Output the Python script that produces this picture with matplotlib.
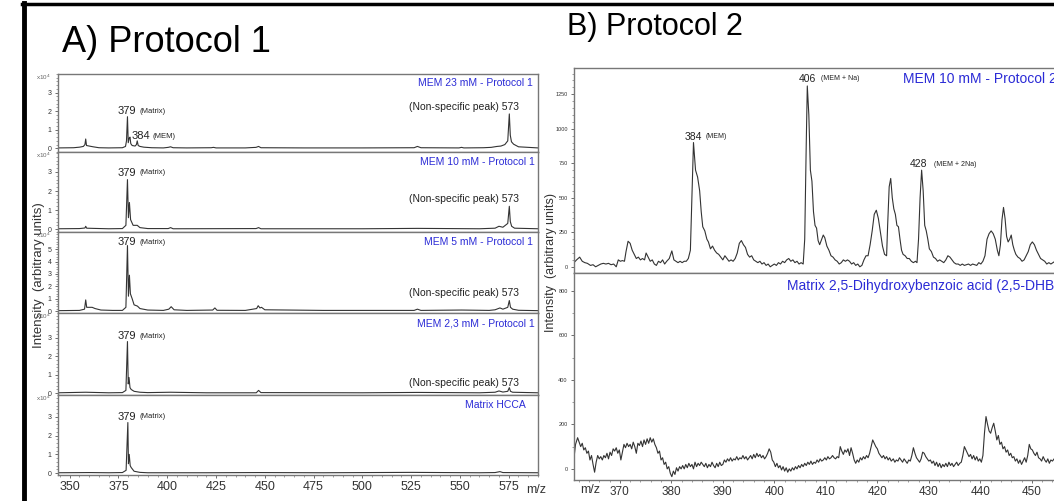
import numpy as np
import matplotlib
matplotlib.use("Agg")
import matplotlib.pyplot as plt
from matplotlib.lines import Line2D
from matplotlib.ticker import MultipleLocator

plt.rcParams['font.family'] = ['Liberation Sans', 'DejaVu Sans']

W, H = 1054, 501
BLUE = '#2b2bd6'
GRAY = '#777777'
LINE = '#333333'

# ---- Protocol 1 spectra (m/z, intensity x10^4) ----
mem23_mz = [344, 352, 355, 357, 357.8, 358.2, 358.6, 360, 362, 365, 370, 377, 378.6, 379.1, 379.6, 380.0,
            380.5, 380.9, 381.3, 382, 383.5, 384.2, 384.6, 385.1, 386, 388, 392, 398, 400.5, 401.7, 403,
            410, 422.5, 423.7, 425, 440, 445.5, 446.8, 448, 470, 500, 526.5, 528.2, 530, 549.5, 550.8, 552,
            562, 566, 569, 571, 573, 574.5, 575.3, 575.8, 576.4, 577.5, 580, 590]
mem23_i = [0.02, 0.03, 0.06, 0.1, 0.2, 0.5, 0.15, 0.12, 0.08, 0.03, 0.02, 0.03, 0.1, 0.4, 1.7, 0.3,
           0.55, 0.6, 0.25, 0.15, 0.12, 0.2, 0.4, 0.15, 0.1, 0.06, 0.03, 0.02, 0.05, 0.08, 0.03,
           0.02, 0.03, 0.05, 0.02, 0.02, 0.05, 0.1, 0.03, 0.02, 0.02, 0.03, 0.1, 0.03, 0.02, 0.05, 0.02,
           0.03, 0.05, 0.1, 0.12, 0.2, 0.4, 1.85, 0.7, 0.35, 0.22, 0.08, 0.02]

mem10_mz = [344, 355, 357.8, 358.2, 358.7, 362, 370, 377, 378.8, 379.6, 380.1, 380.6, 381.2, 382.5, 384.6,
            386, 390, 400.5, 401.7, 403, 445.5, 446.8, 448, 500, 528.2, 560, 568, 570, 572, 574.5, 575.3,
            575.8, 576.5, 578, 590]
mem10_i = [0.02, 0.03, 0.06, 0.15, 0.05, 0.04, 0.02, 0.03, 0.2, 2.6, 0.6, 1.4, 0.5, 0.2, 0.2,
           0.08, 0.03, 0.03, 0.08, 0.02, 0.03, 0.08, 0.02, 0.02, 0.04, 0.02, 0.05, 0.15, 0.1, 0.3, 1.2,
           0.4, 0.15, 0.05, 0.02]

mem5_mz = [344, 355, 357.6, 358.2, 358.7, 360, 361.5, 363, 366, 372, 377, 378.8, 379.6, 380.1, 380.6, 381.1,
           382, 383, 384.7, 386, 390, 398, 400.8, 402, 403.5, 410, 423.3, 424.4, 425.5, 440, 445.8, 446.6,
           447.5, 448.3, 450, 480, 500, 526.5, 528.2, 530, 550.8, 565, 568, 570.5, 572, 574.5, 575.3, 575.9,
           577, 580, 590]
mem5_i = [0.03, 0.05, 0.15, 0.9, 0.3, 0.3, 0.3, 0.2, 0.08, 0.05, 0.05, 0.3, 5.3, 1.2, 2.9, 1.4,
          1.0, 0.5, 0.4, 0.2, 0.08, 0.05, 0.15, 0.35, 0.1, 0.05, 0.08, 0.25, 0.06, 0.05, 0.2, 0.43,
          0.25, 0.3, 0.1, 0.05, 0.05, 0.05, 0.15, 0.05, 0.08, 0.05, 0.1, 0.25, 0.15, 0.3, 0.85,
          0.3, 0.15, 0.06, 0.03]

mem23b_mz = [344, 358.2, 370, 377, 378.8, 379.6, 380.0, 380.4, 380.9, 381.5, 383, 386, 390, 401.7, 420,
             445.6, 446.8, 448, 500, 528.2, 560, 568, 570, 572, 574.5, 575.3, 575.9, 577, 590]
mem23b_i = [0.02, 0.05, 0.02, 0.03, 0.15, 2.8, 0.5, 0.85, 0.3, 0.2, 0.1, 0.05, 0.03, 0.05, 0.02,
            0.02, 0.15, 0.03, 0.02, 0.04, 0.02, 0.05, 0.12, 0.06, 0.1, 0.3, 0.1, 0.05, 0.02]

hcca_mz = [344, 360, 370, 377, 378.9, 379.8, 380.1, 380.5, 381.0, 381.5, 383, 386, 390, 420, 446.8, 480,
           525, 560, 568, 570.5, 572, 590]
hcca_i = [0.02, 0.03, 0.02, 0.03, 0.15, 2.7, 0.5, 1.0, 0.4, 0.3, 0.1, 0.04, 0.02, 0.02, 0.03, 0.02,
          0.04, 0.02, 0.03, 0.08, 0.03, 0.02]

# ---- Protocol 2 spectra (m/z, intensity) ----
p2_mz = [361.1, 361.6, 362.2, 362.7, 363.2, 363.7, 364.3, 364.8, 365.3, 365.8, 366.3, 366.8, 367.3, 367.8,
         368.3, 368.8, 369.3, 369.7, 370.1, 370.5, 370.9, 371.2, 371.6, 372.0, 372.4, 372.8, 373.2, 373.6,
         374.0, 374.4, 374.8, 375.1, 375.5, 375.9, 376.3, 376.7, 377.1, 377.5, 377.9, 378.3, 378.7, 379.1,
         379.6, 380.1, 380.5, 380.9, 381.3, 381.7, 382.1, 382.5, 382.9, 383.3, 383.7, 384.0, 384.3, 384.7,
         385.1, 385.5, 385.8, 386.1, 386.5, 386.9, 387.2, 387.6, 388.0, 388.4, 388.8, 389.2, 389.6, 390.0,
         390.4, 390.8, 391.2, 391.6, 392.0, 392.4, 392.8, 393.2, 393.6, 394.0, 394.4, 394.8, 395.2, 395.6,
         396.0, 396.4, 396.8, 397.2, 397.6, 398.0, 398.4, 398.8, 399.2, 399.6, 400.0, 400.4, 400.8, 401.2,
         401.6, 402.0, 402.4, 402.8, 403.2, 403.6, 404.0, 404.4, 404.8, 405.2, 405.6, 405.9, 406.2, 406.4,
         406.7, 407.0, 407.3, 407.6, 407.9, 408.2, 408.5, 408.8, 409.2, 409.5, 409.8, 410.2, 410.6, 411.0,
         411.4, 411.8, 412.2, 412.6, 413.0, 413.4, 413.8, 414.2, 414.6, 415.0, 415.4, 415.8, 416.2, 416.6,
         417.0, 417.4, 417.8, 418.2, 418.6, 419.0, 419.4, 419.8, 420.2, 420.6, 421.0, 421.4, 421.8, 422.0,
         422.3, 422.6, 422.9, 423.2, 423.5, 423.8, 424.1, 424.4, 424.7, 425.0, 425.4, 425.8, 426.2, 426.6,
         427.0, 427.4, 427.7, 428.0, 428.3, 428.6, 428.9, 429.2, 429.5, 429.8, 430.1, 430.5, 430.9, 431.3,
         431.7, 432.1, 432.5, 432.9, 433.3, 433.7, 434.1, 434.5, 434.9, 435.3, 435.7, 436.1, 436.5, 436.9,
         437.3, 437.7, 438.1, 438.5, 438.9, 439.3, 439.7, 440.1, 440.5, 440.9, 441.3, 441.7, 442.1, 442.5,
         442.9, 443.3, 443.6, 443.9, 444.2, 444.5, 444.8, 445.1, 445.4, 445.7, 446.0, 446.3, 446.6, 446.9,
         447.3, 447.7, 448.1, 448.5, 448.9, 449.3, 449.7, 450.1, 450.5, 450.9, 451.3, 451.7, 452.1, 452.5,
         452.9, 453.3, 453.7, 454.1, 454.5, 455.0, 455.5, 456.0, 457.0, 458.0]
p2_i = [30, 50, 70, 40, 30, 25, 10, 15, 0, 10, 20, 25, 20, 25,
        15, 20, 0, 50, 40, 45, 40, 110, 185, 170, 120, 90, 60, 70,
        50, 60, 50, 100, 70, 40, 50, 20, 10, 40, 30, 50, 20, 40,
        60, 115, 50, 40, 30, 40, 30, 40, 40, 60, 120, 500, 900, 700,
        650, 550, 400, 290, 260, 200, 180, 130, 150, 120, 100, 90, 70, 50,
        80, 60, 40, 50, 40, 60, 100, 170, 190, 160, 140, 90, 70, 80,
        50, 40, 30, 40, 20, 30, 10, 20, 0, 10, 20, 10, 30, 20,
        40, 30, 50, 60, 40, 50, 30, 40, 20, 30, 20, 200, 900, 1310,
        1100, 700, 620, 400, 300, 280, 190, 160, 200, 230, 210, 150, 120, 80,
        70, 50, 40, 20, 30, 50, 40, 50, 40, 20, 30, 10, 20, 0,
        10, 50, 80, 80, 160, 260, 380, 410, 350, 250, 150, 90, 80, 300,
        580, 640, 500, 420, 380, 300, 290, 200, 120, 90, 80, 60, 60, 40,
        30, 40, 30, 200, 500, 700, 550, 300, 260, 200, 130, 110, 70, 60,
        40, 50, 40, 30, 50, 80, 70, 50, 30, 20, 20, 10, 20, 10,
        15, 20, 10, 20, 15, 10, 30, 20, 40, 80, 200, 240, 260, 240,
        200, 120, 80, 160, 340, 430, 350, 220, 180, 200, 230, 160, 120, 90,
        70, 60, 40, 50, 80, 110, 160, 180, 160, 120, 90, 60, 50, 40,
        20, 30, 20, 30, 40, 60, 80, 60, 40, 30]

dhb_mz = [361.1, 361.4, 361.8, 362.1, 362.4, 362.7, 363.0, 363.3, 363.6, 363.9, 364.2, 364.5, 364.8, 365.1,
          365.4, 365.7, 366.0, 366.3, 366.6, 366.9, 367.2, 367.5, 367.8, 368.1, 368.4, 368.7, 369.0, 369.3,
          369.6, 369.9, 370.2, 370.5, 370.8, 371.1, 371.4, 371.7, 372.0, 372.3, 372.6, 372.9, 373.2, 373.5,
          373.8, 374.1, 374.4, 374.7, 375.0, 375.3, 375.6, 375.9, 376.2, 376.5, 376.8, 377.1, 377.4, 377.7,
          378.0, 378.3, 378.6, 378.9, 379.2, 379.5, 379.8, 380.1, 380.4, 380.7, 381.0, 381.3, 381.6, 381.9,
          382.2, 382.5, 382.8, 383.1, 383.4, 383.7, 384.0, 384.3, 384.6, 384.9, 385.2, 385.5, 385.8, 386.1,
          386.4, 386.7, 387.0, 387.3, 387.6, 387.9, 388.2, 388.5, 388.8, 389.1, 389.4, 389.7, 390.0, 390.3,
          390.6, 390.9, 391.2, 391.5, 391.8, 392.1, 392.4, 392.7, 393.0, 393.3, 393.6, 393.9, 394.2, 394.5,
          394.8, 395.1, 395.4, 395.7, 396.0, 396.3, 396.6, 396.9, 397.2, 397.5, 397.8, 398.1, 398.4, 398.7,
          399.0, 399.3, 399.6, 399.9, 400.2, 400.5, 400.8, 401.1, 401.4, 401.7, 402.0, 402.3, 402.6, 402.9,
          403.2, 403.5, 403.8, 404.1, 404.4, 404.7, 405.0, 405.3, 405.6, 405.9, 406.2, 406.5, 406.8, 407.1,
          407.4, 407.7, 408.0, 408.3, 408.6, 408.9, 409.2, 409.5, 409.8, 410.1, 410.4, 410.7, 411.0, 411.3,
          411.6, 411.9, 412.2, 412.5, 412.8, 413.1, 413.4, 413.7, 414.0, 414.3, 414.6, 414.9, 415.2, 415.5,
          415.8, 416.1, 416.4, 416.7, 417.0, 417.3, 417.6, 417.9, 418.2, 418.5, 418.8, 419.1, 419.4, 419.7,
          420.0, 420.3, 420.6, 420.9, 421.2, 421.5, 421.8, 422.1, 422.4, 422.7, 423.1, 423.4, 423.7, 424.0,
          424.3, 424.6, 424.9, 425.2, 425.5, 425.8, 426.1, 426.4, 426.7, 427.0, 427.3, 427.6, 427.9, 428.2,
          428.5, 428.8, 429.1, 429.4, 429.7, 430.0, 430.3, 430.6, 430.9, 431.2, 431.5, 431.8, 432.1, 432.4,
          432.7, 433.0, 433.3, 433.6, 433.9, 434.2, 434.5, 434.8, 435.1, 435.4, 435.7, 436.0, 436.3, 436.6,
          436.9, 437.2, 437.5, 437.8, 438.1, 438.4, 438.7, 439.0, 439.3, 439.6, 439.9, 440.2, 440.5, 440.8,
          441.1, 441.4, 441.7, 442.0, 442.3, 442.6, 442.9, 443.2, 443.5, 443.8, 444.1, 444.4, 444.7, 445.0,
          445.3, 445.6, 445.9, 446.2, 446.5, 446.8, 447.1, 447.4, 447.7, 448.0, 448.3, 448.6, 448.9, 449.2,
          449.5, 449.8, 450.1, 450.4, 450.7, 451.0, 451.3, 451.6, 451.9, 452.2, 452.5, 452.8, 453.1, 453.4,
          453.7, 454.0, 454.5, 455.0, 456.0, 458.0]
dhb_i = [50, 110, 140, 120, 100, 115, 85, 95, 70, 80, 40, 60, 20, -15,
         30, 60, 45, 55, 40, 60, 50, 70, 45, 75, 60, 90, 80, 95,
         70, 85, 40, 75, 110, 95, 115, 100, 110, 90, 120, 100, 70, 115,
         105, 125, 100, 130, 110, 135, 115, 140, 120, 135, 110, 95, 70, 80,
         40, 50, 20, 30, 0, 10, -20, -35, -10, -25, 5, -10, 10, 0,
         15, 0, 20, 5, 25, 10, 20, 0, 30, 10, 25, 15, 30, 20,
         10, 25, 5, 20, 10, 30, 15, 5, 25, 10, 30, 15, 20, 40,
         30, 45, 35, 50, 35, 45, 40, 55, 40, 50, 45, 60, 45, 55,
         40, 50, 60, 45, 65, 50, 70, 55, 65, 50, 60, 45, 55, 70,
         90, 75, 40, 30, 10, 25, 5, 15, -5, 10, -10, 5, -15, 0,
         -10, 5, -5, 10, 0, 15, 5, 20, 10, 25, 15, 30, 20, 35,
         20, 30, 25, 40, 30, 45, 35, 40, 50, 40, 55, 45, 50, 60,
         50, 45, 55, 50, 100, 80, 65, 85, 75, 90, 60, 95, 70, 40,
         25, 40, 30, 50, 40, 55, 45, 60, 50, 70, 100, 130, 115, 100,
         90, 70, 60, 50, 60, 45, 55, 40, 50, 35, 45, 30, 40, 35,
         50, 40, 30, 45, 35, 25, 40, 35, 60, 95, 70, 50, 40, 30,
         45, 75, 70, 55, 45, 35, 40, 25, 35, 15, 30, 10, 25, 5,
         20, 10, 25, 10, 30, 15, 25, 10, 20, 30, 15, 25, 30, 60,
         100, 85, 70, 55, 65, 45, 60, 40, 55, 35, 45, 30, 60, 160,
         235, 200, 170, 160, 185, 205, 170, 130, 150, 110, 120, 90, 100, 75,
         85, 60, 70, 50, 55, 35, 45, 25, 40, 20, 35, 50, 30, 60,
         110, 90, 85, 70, 60, 75, 50, 45, 35, 55, 40, 30, 45, 25,
         40, 35, 50, 45, 40, 35]


def fx(px):
    return px / W


def fy(py):
    return 1 - py / H


fig = plt.figure(figsize=(W / 100, H / 100), dpi=100)


def style(ax, labelsize=8):
    for s in ax.spines.values():
        s.set_color(GRAY)
        s.set_linewidth(1.0)
    ax.tick_params(colors='#555555', labelcolor='#333333', length=2.5, width=0.6, labelsize=labelsize,
                   pad=2)
    ax.tick_params(which='minor', length=1.5, width=0.5, colors='#777777')


# ---- Panel A ----
tops = [74, 152, 232, 313, 395]
bots = [152, 232, 313, 395, 475]
ylims = [(-0.2, 4.0), (-0.15, 4.05), (-0.16, 6.4), (-0.1, 4.35), (-0.1, 4.17)]
ymaxtick = [3, 3, 5, 3, 3]
spectra = [(mem23_mz, mem23_i), (mem10_mz, mem10_i), (mem5_mz, mem5_i),
           (mem23b_mz, mem23b_i), (hcca_mz, hcca_i)]
blue_labels = ['MEM 23 mM - Protocol 1', 'MEM 10 mM - Protocol 1', 'MEM 5 mM - Protocol 1',
               'MEM 2,3 mM - Protocol 1', 'Matrix HCCA']
blue_pos = [(587.2, 3.5), (588.2, 3.5), (587.2, 5.56), (588.2, 3.8), (583.6, 3.65)]
matrix_y = [2.0, 2.95, 5.56, 3.1, 3.0]
nonspec_y = [2.2, 1.6, 1.45, 0.55, None]

for k in range(5):
    ax = fig.add_axes([fx(58), fy(bots[k]), fx(538) - fx(58), (bots[k] - tops[k]) / H])
    mz, inten = spectra[k]
    ax.plot(mz, inten, color=LINE, lw=0.8)
    ax.set_xlim(344, 590)
    ax.set_ylim(*ylims[k])
    ax.set_yticks(range(0, ymaxtick[k] + 1))
    ax.yaxis.set_minor_locator(MultipleLocator(0.2))
    ax.xaxis.set_major_locator(MultipleLocator(25))
    ax.xaxis.set_minor_locator(MultipleLocator(5))
    style(ax, labelsize=9)
    ax.tick_params(axis='y', labelsize=5)
    if k < 4:
        ax.tick_params(axis='x', which='both', bottom=False, labelbottom=False)
    ax.text(blue_pos[k][0], blue_pos[k][1], blue_labels[k], color=BLUE, fontsize=7.5,
            ha='right', va='center')
    ax.text(374.6, matrix_y[k], '379', fontsize=8, ha='left', va='center', color='#222222')
    ax.text(385.9, matrix_y[k], '(Matrix)', fontsize=5.5, ha='left', va='center', color='#222222')
    if nonspec_y[k] is not None:
        ax.text(580.5, nonspec_y[k], '(Non-specific peak) 573', fontsize=7.5, ha='right',
                va='center', color='#222222')
    if k == 0:
        ax.text(381.8, 0.65, '384', fontsize=8, ha='left', va='center', color='#222222')
        ax.text(392.5, 0.65, '(MEM)', fontsize=5.5, ha='left', va='center', color='#222222')
    fig.text(fx(36), fy(tops[k] + 3), r'x10$^4$', fontsize=4.5, color='#666666', va='center')

fig.text(fx(526), fy(490), 'm/z', fontsize=9, color='#333333', va='center', ha='left')
fig.text(fx(39), fy(275), 'Intensity  (arbitrary units)', rotation=90, fontsize=9.5,
         ha='center', va='center', color='#333333')

# ---- Panel B ----
bx0, bx1 = 574, 1075
xlo = 361.1
xhi = xlo + (bx1 - bx0) / 5.15
axb1 = fig.add_axes([fx(bx0), fy(273), fx(bx1) - fx(bx0), (273 - 68) / H])
axb2 = fig.add_axes([fx(bx0), fy(480), fx(bx1) - fx(bx0), (480 - 273) / H])

axb1.plot(p2_mz, p2_i, color=LINE, lw=0.8)
axb1.set_xlim(xlo, xhi)
axb1.set_ylim(-45, 1440)
axb1.set_yticks([0, 250, 500, 750, 1000, 1250])
axb1.yaxis.set_minor_locator(MultipleLocator(50))
axb1.tick_params(axis='x', which='both', bottom=False, labelbottom=False)
style(axb1)
axb1.tick_params(axis='y', labelsize=4)

axb2.plot(dhb_mz, dhb_i, color=LINE, lw=0.8)
axb2.set_xlim(xlo, xhi)
axb2.set_ylim(-50, 880)
axb2.set_yticks([0, 200, 400, 600, 800])
axb2.yaxis.set_minor_locator(MultipleLocator(100))
axb2.xaxis.set_major_locator(MultipleLocator(10))
axb2.xaxis.set_minor_locator(MultipleLocator(2))
style(axb2, labelsize=8.5)
axb2.tick_params(axis='y', labelsize=4)

axb1.text(384.2, 942, '384', fontsize=7.5, ha='center', va='center', color='#222222')
axb1.text(386.6, 942, '(MEM)', fontsize=5, ha='left', va='center', color='#222222')
axb1.text(406.5, 1362, '406', fontsize=7.5, ha='center', va='center', color='#222222')
axb1.text(409.0, 1362, '(MEM + Na)', fontsize=5, ha='left', va='center', color='#222222')
axb1.text(427.9, 744, '428', fontsize=7.5, ha='center', va='center', color='#222222')
axb1.text(431.0, 744, '(MEM + 2Na)', fontsize=5, ha='left', va='center', color='#222222')
axb1.text(425.0, 1362, 'MEM 10 mM - Protocol 2', fontsize=10, color=BLUE, ha='left', va='center')
axb2.text(402.4, 820, 'Matrix 2,5-Dihydroxybenzoic acid (2,5-DHB)', fontsize=10, color=BLUE,
          ha='left', va='center')

fig.text(fx(590), fy(490), 'm/z', fontsize=9, color='#333333', va='center', ha='center')
fig.text(fx(551), fy(262), 'Intensity  (arbitrary units)', rotation=90, fontsize=9,
         ha='center', va='center', color='#333333')

# ---- titles and frame ----
fig.text(fx(62), fy(52), 'A) Protocol 1', fontsize=26, ha='left', va='baseline')
fig.text(fx(567), fy(35), 'B) Protocol 2', fontsize=22, ha='left', va='baseline')
fig.add_artist(Line2D([fx(24), fx(24)], [fy(3), 0], lw=3.5, color='black'))
fig.add_artist(Line2D([fx(22), 1], [fy(4), fy(4)], lw=2.5, color='black'))

fig.savefig('out.png', dpi=100)
